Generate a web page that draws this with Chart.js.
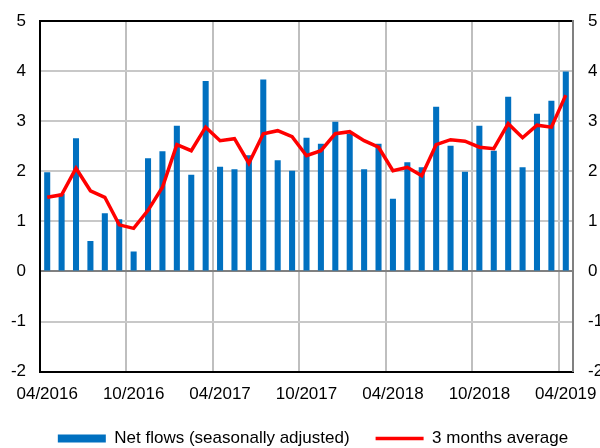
<!DOCTYPE html>
<html>
<head>
<meta charset="utf-8">
<script src="https://cdn.jsdelivr.net/npm/chart.js@4.4.0/dist/chart.umd.min.js"></script>
<style>
    html, body { margin: 0; padding: 0; background: #ffffff; overflow: hidden; }
    #wrap { width: 600px; height: 448px; overflow: hidden; }
</style>
</head>
<body>
<div id="wrap"><canvas id="chart" width="626" height="448"></canvas></div>
<script>
// Месяцы: 04/2016 .. 04/2019
const months = [
    '04/2016', '05/2016', '06/2016', '07/2016', '08/2016', '09/2016',
    '10/2016', '11/2016', '12/2016', '01/2017', '02/2017', '03/2017',
    '04/2017', '05/2017', '06/2017', '07/2017', '08/2017', '09/2017',
    '10/2017', '11/2017', '12/2017', '01/2018', '02/2018', '03/2018',
    '04/2018', '05/2018', '06/2018', '07/2018', '08/2018', '09/2018',
    '10/2018', '11/2018', '12/2018', '01/2019', '02/2019', '03/2019',
    '04/2019'
];

// Net flows (seasonally adjusted)
const netFlows = [
    1.98, 1.55, 2.66, 0.61, 1.16, 1.04,
    0.40, 2.26, 2.40, 2.91, 1.93, 3.80,
    2.09, 2.04, 2.32, 3.83, 2.22, 2.01,
    2.67, 2.55, 2.99, 2.75, 2.04, 2.55,
    1.45, 2.18, 2.08, 3.29, 2.51, 1.99,
    2.91, 2.41, 3.49, 2.08, 3.15, 3.41,
    3.99
];

// 3 months average
const avg3m = [
    1.48, 1.53, 2.06, 1.61, 1.48, 0.93,
    0.86, 1.22, 1.68, 2.53, 2.41, 2.88,
    2.61, 2.65, 2.16, 2.75, 2.81, 2.69,
    2.31, 2.41, 2.75, 2.79, 2.61, 2.48,
    2.01, 2.08, 1.91, 2.53, 2.63, 2.60,
    2.48, 2.45, 2.95, 2.67, 2.92, 2.88,
    3.52
];

const yTicks = [-2, -1, 0, 1, 2, 3, 4, 5];
const labelEvery = 6;

const FONT = { family: "'Liberation Sans', Arial, sans-serif", size: 17 };
const CANVAS_W = 626;
const PLOT_LEFT = 40;
const PLOT_RIGHT = 573;

// ширина оси и без запаса под подписи сверху/снизу
const fitY = (width) => (axis) => {
    axis.width = width;
    axis.paddingTop = 0;
    axis.paddingBottom = 0;
};

new Chart(document.getElementById('chart').getContext('2d'), {
    type: 'bar',
    data: {
        labels: months,
        datasets: [{
            label: 'Net flows (seasonally adjusted)',
            data: netFlows,
            backgroundColor: '#0070C0',
            borderWidth: 0,
            barPercentage: 0.42,
            categoryPercentage: 1,
            pointStyle: 'rect',
            yAxisID: 'y',
            order: 1
        }, {
            type: 'line',
            label: '3 months average',
            data: avg3m,
            borderColor: '#FF0000',
            backgroundColor: '#FF0000',
            borderWidth: 3.5,
            tension: 0,
            pointRadius: 0,
            pointHoverRadius: 0,
            pointStyle: 'line',
            pointBorderColor: '#FF0000',
            pointBorderWidth: 3.5,
            yAxisID: 'y',
            order: 0
        }]
    },
    options: {
        responsive: false,
        animation: false,
        layout: { padding: { top: 21, bottom: -9 } },
        plugins: {
            tooltip: { enabled: false },
            legend: {
                position: 'bottom',
                labels: {
                    sort: (a, b) => a.datasetIndex - b.datasetIndex,
                    usePointStyle: true,
                    pointStyleWidth: 48,
                    boxHeight: 8,
                    color: '#000000',
                    font: FONT,
                    padding: 26
                }
            }
        },
        scales: {
            x: {
                offset: true,
                afterFit: (axis) => { axis.height -= 14; },
                grid: {
                    offset: true,
                    drawTicks: false,
                    lineWidth: 2,
                    color: (ctx) => (ctx.index % labelEvery === 0 ? '#BFBFBF' : 'rgba(0,0,0,0)')
                },
                border: { color: '#000000', width: 2 },
                ticks: {
                    autoSkip: false,
                    maxRotation: 0,
                    padding: 13,
                    color: '#000000',
                    font: FONT,
                    callback: (v, i) => (i % labelEvery === 0 ? months[i] : '')
                }
            },
            y: {
                position: 'left',
                min: yTicks[0],
                max: yTicks[yTicks.length - 1],
                afterBuildTicks: (axis) => { axis.ticks = yTicks.map(v => ({ value: v })); },
                afterFit: fitY(PLOT_LEFT),
                grid: {
                    drawTicks: false,
                    lineWidth: 2,
                    color: (ctx) => {
                        const v = ctx.tick ? ctx.tick.value : null;
                        if (v === 5) return '#000000';
                        if (v === 0) return '#808080';
                        return '#C8C8C8';
                    }
                },
                border: { color: '#000000', width: 2 },
                ticks: { padding: 14, color: '#000000', font: FONT }
            },
            y2: {
                position: 'right',
                min: yTicks[0],
                max: yTicks[yTicks.length - 1],
                afterBuildTicks: (axis) => { axis.ticks = yTicks.map(v => ({ value: v })); },
                afterFit: fitY(CANVAS_W - PLOT_RIGHT),
                grid: { display: false, drawTicks: false },
                border: { color: '#808080', width: 2 },
                ticks: { padding: 15, color: '#000000', font: FONT }
            }
        }
    }
});
</script>
</body>
</html>
